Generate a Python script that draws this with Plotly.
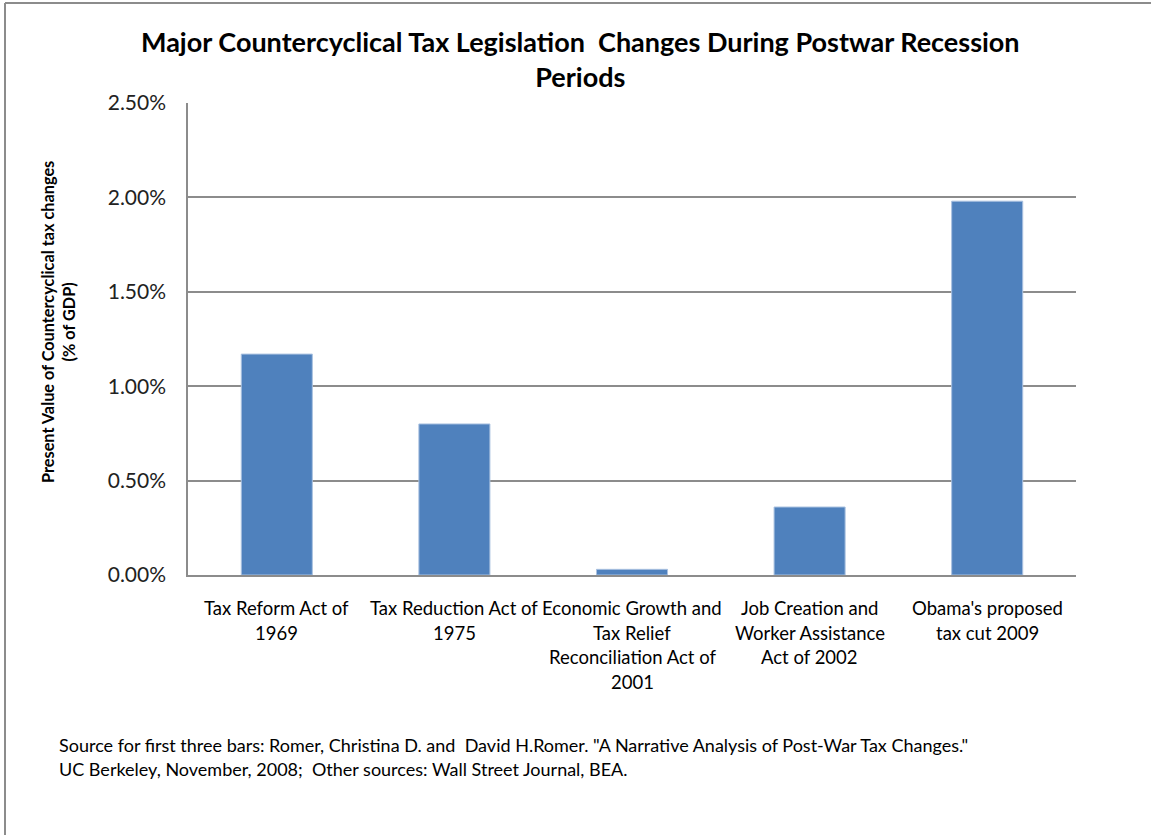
import plotly.graph_objects as go

# Bill names (lines split for the category labels) and present value of tax change, % of GDP
categories = [
    "Tax Reform Act of<br>1969",
    "Tax Reduction Act of<br>1975",
    "Economic Growth and<br>Tax Relief<br>Reconciliation Act of<br>2001",
    "Job Creation and<br>Worker Assistance<br>Act of 2002",
    "Obama's proposed<br>tax cut 2009",
]
pct_of_gdp = [1.17, 0.80, 0.03, 0.36, 1.98]
y_ticks = [0.0, 0.5, 1.0, 1.5, 2.0, 2.5]
y_tick_labels = ["%.2f%%" % v for v in y_ticks]

title_text = "Major Countercyclical Tax Legislation  Changes During Postwar Recession<br>Periods"
y_title = "Present Value of Countercyclical tax changes<br>(% of GDP)"
source_lines = [
    'Source for first three bars: Romer, Christina D. and  David H.Romer. "A Narrative Analysis of Post-War Tax Changes."',
    "UC Berkeley, November, 2008;  Other sources: Wall Street Journal, BEA.",
]

W, H = 1151, 835
L, R, T, B = 188, 75, 103, 260
PW, PH = W - L - R, H - T - B


def px(x):
    return (x - L) / PW


def py(y):
    return (H - B - y) / PH


FONT = "Lato"
xs = list(range(len(categories)))

fig = go.Figure(
    go.Bar(
        x=xs,
        y=pct_of_gdp,
        width=0.4,
        marker=dict(color="#4F81BD", line=dict(color="#A9C1E0", width=1)),
    )
)

fig.update_layout(
    width=W,
    height=H,
    margin=dict(l=L, r=R, t=T, b=B),
    paper_bgcolor="white",
    plot_bgcolor="white",
    showlegend=False,
    font=dict(family=FONT, color="black"),
)

fig.update_xaxes(
    range=[-0.5, len(categories) - 0.5],
    showticklabels=False,
    ticks="",
    showgrid=False,
    showline=True,
    linecolor="#8C8C8C",
    linewidth=1.5,
    zeroline=False,
)
fig.update_yaxes(
    range=[0, 2.5],
    tickvals=y_ticks,
    ticktext=y_tick_labels,
    tickfont=dict(family=FONT, size=21, color="#222"),
    ticks="",
    ticklabelstandoff=16,
    showgrid=True,
    gridcolor="#8C8C8C",
    gridwidth=1.5,
    showline=True,
    linecolor="#8C8C8C",
    linewidth=1.5,
    zeroline=False,
)

annotations = []

# Title
annotations.append(dict(
    text="<b>" + title_text + "</b>",
    x=px(580), y=py(59), xref="paper", yref="paper",
    xanchor="center", yanchor="middle", showarrow=False,
    font=dict(family=FONT, size=27, color="black"),
))

# Y-axis title
annotations.append(dict(
    text="<b>" + y_title + "</b>",
    x=px(58), y=py(322), xref="paper", yref="paper",
    xanchor="center", yanchor="middle", textangle=-90, showarrow=False,
    font=dict(family=FONT, size=16.3, color="black"),
))

# Category labels, one annotation per line for even spacing
for i, label in enumerate(categories):
    for j, line in enumerate(label.split("<br>")):
        annotations.append(dict(
            text=line,
            x=i, y=py(608 + 24.5 * j), xref="x", yref="paper",
            xanchor="center", yanchor="middle", showarrow=False,
            font=dict(family=FONT, size=18.5, color="black"),
        ))

# Source note
for j, line in enumerate(source_lines):
    annotations.append(dict(
        text=line,
        x=px(57), y=py(745 + 24 * j), xref="paper", yref="paper",
        xanchor="left", yanchor="middle", showarrow=False,
        font=dict(family=FONT, size=18, color="black"),
    ))

fig.update_layout(annotations=annotations)

# Outer frame on the left and top edges
fig.add_shape(type="line", xref="paper", yref="paper",
              x0=px(5), x1=px(5), y0=py(3), y1=py(H + 5),
              line=dict(color="#8C8C8C", width=2))
fig.add_shape(type="line", xref="paper", yref="paper",
              x0=px(5), x1=px(W + 5), y0=py(3), y1=py(3),
              line=dict(color="#8C8C8C", width=2))

fig.write_html("out.html")
